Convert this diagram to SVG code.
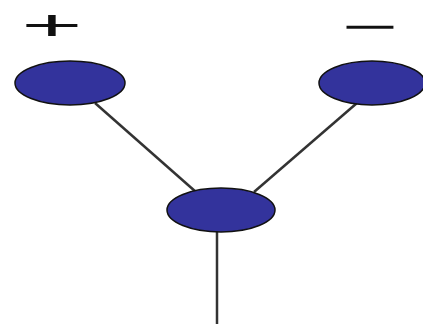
<svg xmlns="http://www.w3.org/2000/svg" width="423" height="324" viewBox="0 0 423 324">
  <style>
    .node { fill: #33339c; stroke: #111; stroke-width: 1.5; }
    .link { stroke: #333; stroke-width: 2.5; fill: none; }
    .sign { font-family: "Liberation Sans", Arial, sans-serif; font-size: 42px; fill: #111; text-anchor: middle; }
  </style>
  <rect width="423" height="324" fill="#fff"/>
  <g id="connectors">
    <line class="link" x1="95" y1="103" x2="196" y2="192"/>
    <line class="link" x1="357" y1="103" x2="254" y2="192"/>
    <line class="link" x1="217" y1="230" x2="217" y2="324"/>
  </g>
  <g id="node-plus">
    <ellipse class="node" cx="70" cy="83" rx="55" ry="22"/>
    <text class="sign" transform="translate(52,40) scale(2.5,1)">+</text>
  </g>
  <g id="node-minus">
    <ellipse class="node" cx="372" cy="83" rx="53" ry="22"/>
    <text class="sign" transform="translate(370,41) scale(2.3,1)">−</text>
  </g>
  <g id="node-root">
    <ellipse class="node" cx="221" cy="210" rx="54" ry="22"/>
  </g>
</svg>
